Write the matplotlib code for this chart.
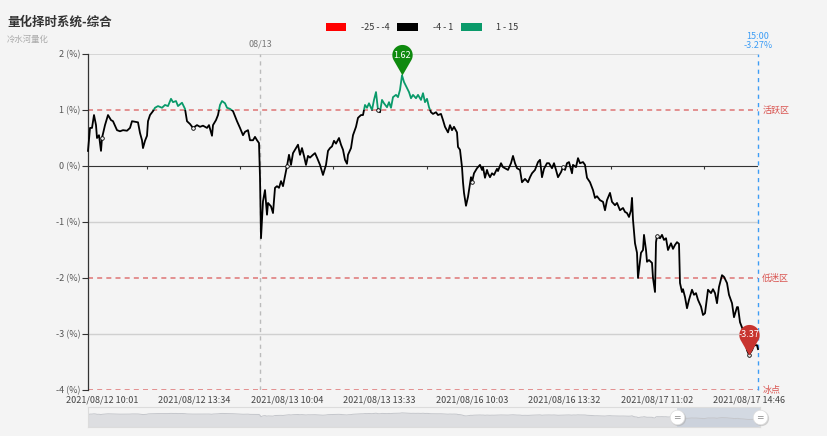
import numpy as np
import matplotlib.pyplot as plt
from matplotlib.path import Path
from matplotlib.patches import Rectangle, Patch

plt.rcParams['font.family'] = ['Noto Sans CJK SC', 'DejaVu Sans']

# minute index (category position) and cumulative change in %
bar_idx = [0, 2, 4, 6, 8, 9, 11, 13, 14, 17, 20, 23, 25, 29, 32, 35, 39, 42, 44, 47,
           50, 52, 54, 55, 57, 59, 60, 62, 65, 67, 70, 74, 77, 80, 83, 85, 88, 90, 92, 94,
           97, 99, 102, 105, 109, 112, 115, 119, 121, 124, 125, 128, 130, 132, 134, 137, 139, 142, 145, 147,
           149, 152, 155, 157, 160, 162, 165, 167, 169, 171, 172, 173, 174, 175, 177, 179, 180, 183, 185, 187,
           189, 191, 193, 195, 197, 199, 201, 203, 205, 208, 210, 212, 214, 216, 218, 220, 222, 225, 227, 229,
           232, 235, 238, 240, 242, 244, 246, 248, 251, 253, 255, 257, 259, 260, 263, 265, 268, 270, 273, 275,
           277, 279, 281, 284, 286, 288, 290, 292, 294, 296, 299, 301, 303, 305, 308, 310, 312, 314, 316, 319,
           321, 323, 325, 328, 330, 333, 335, 337, 339, 341, 343, 345, 348, 350, 353, 355, 357, 360, 362, 364,
           366, 369, 370, 372, 374, 375, 376, 378, 380, 381, 383, 384, 386, 389, 390, 392, 394, 395, 397, 399,
           400, 402, 404, 406, 409, 410, 413, 415, 418, 420, 423, 425, 427, 429, 432, 434, 437, 440, 442, 444,
           447, 450, 452, 454, 456, 459, 461, 464, 466, 468, 470, 473, 475, 477, 479, 481, 484, 485, 488, 490,
           492, 495, 497, 499, 502, 505, 507, 509, 512, 515, 517, 519, 522, 524, 527, 529, 532, 535, 537, 539,
           541, 543, 544, 545, 547, 549, 550, 553, 555, 556, 558, 559, 561, 564, 565, 567, 568, 569, 572, 574,
           576, 578, 580, 583, 585, 587, 589, 591, 592, 594, 595, 597, 599, 601, 604, 606, 608, 610, 613, 615,
           617, 619, 620, 623, 625, 627, 629, 631, 634, 636, 639, 641, 644, 646, 649, 650, 652, 655, 657, 659,
           661, 664, 666, 669, 670]
pct = [0.27, 0.68, 0.68, 0.91, 0.73, 0.50, 0.55, 0.27, 0.50, 0.73, 0.91, 0.82, 0.80, 0.64, 0.62, 0.64, 0.63, 0.68, 0.80, 0.79,
       0.78, 0.59, 0.46, 0.32, 0.45, 0.54, 0.80, 0.91, 0.98, 1.04, 1.07, 1.04, 1.09, 1.07, 1.20, 1.14, 1.16, 1.07, 1.10, 1.13,
       1.02, 0.80, 0.75, 0.68, 0.73, 0.70, 0.72, 0.68, 0.73, 0.54, 0.73, 0.82, 0.91, 1.09, 1.16, 1.12, 1.04, 1.02, 0.98, 0.89,
       0.80, 0.68, 0.55, 0.61, 0.64, 0.46, 0.46, 0.52, 0.46, 0.41, -0.20, -1.29, -0.95, -0.63, -0.43, -0.87, -0.66, -0.72, -0.84, -0.39,
       -0.36, -0.39, -0.27, -0.36, -0.18, 0.00, 0.20, 0.02, 0.23, 0.32, 0.38, 0.20, 0.32, 0.18, 0.02, 0.18, 0.15, 0.20, 0.23, 0.15,
       0.02, -0.16, 0.02, 0.27, 0.32, 0.35, 0.45, 0.40, 0.50, 0.38, 0.29, 0.11, 0.04, 0.20, 0.32, 0.55, 0.70, 0.86, 0.91, 0.91,
       1.09, 1.04, 1.12, 1.00, 1.18, 1.32, 1.00, 0.96, 1.18, 1.12, 1.05, 1.14, 1.04, 1.23, 1.27, 1.23, 1.36, 1.62, 1.50, 1.39,
       1.32, 1.21, 1.27, 1.21, 1.27, 1.18, 1.30, 1.14, 1.20, 1.05, 0.96, 0.93, 0.96, 0.91, 0.93, 0.82, 0.70, 0.60, 0.73, 0.64,
       0.70, 0.60, 0.34, 0.29, -0.02, -0.29, -0.48, -0.71, -0.55, -0.43, -0.20, -0.29, -0.13, -0.04, -0.02, 0.02, -0.07, -0.02, -0.21, -0.07,
       -0.13, -0.20, -0.13, -0.16, -0.05, -0.09, 0.05, -0.02, -0.05, -0.07, 0.05, 0.18, 0.05, -0.04, -0.07, -0.29, -0.23, -0.29, -0.20, -0.13,
       -0.07, 0.07, 0.11, -0.20, -0.05, 0.05, 0.05, -0.04, 0.05, -0.07, -0.20, -0.11, -0.02, -0.07, 0.05, 0.07, -0.13, 0.02, -0.02, 0.14,
       0.05, 0.07, 0.02, -0.21, -0.29, -0.43, -0.57, -0.54, -0.61, -0.64, -0.79, -0.61, -0.48, -0.64, -0.70, -0.66, -0.79, -0.75, -0.82, -0.84,
       -0.91, -0.79, -0.57, -0.96, -1.38, -1.55, -2.00, -1.55, -1.50, -1.23, -1.50, -1.71, -1.68, -1.73, -2.00, -2.25, -1.36, -1.25, -1.29, -1.23,
       -1.32, -1.29, -1.50, -1.38, -1.48, -1.41, -1.36, -1.39, -2.09, -2.25, -2.20, -2.34, -2.54, -2.39, -2.21, -2.30, -2.27, -2.39, -2.51, -2.66,
       -2.63, -2.36, -2.21, -2.27, -2.20, -2.27, -2.45, -2.16, -1.95, -1.98, -2.09, -2.30, -2.45, -2.70, -2.52, -2.52, -2.79, -2.93, -3.11, -3.29,
       -3.37, -3.29, -3.20, -3.20, -3.27]

tick_idx = [14, 106, 199, 291, 384, 476, 569, 661]
tick_text = ['2021/08/12 10:01', '2021/08/12 13:34', '2021/08/13 10:04', '2021/08/13 13:33',
             '2021/08/16 10:03', '2021/08/16 13:32', '2021/08/17 11:02', '2021/08/17 14:46']
axis_tick_idx = [59, 152, 245, 339, 432, 523, 616]
day_split_idx = 172
day_split_text = '08/13'
last_time = '15:00'
zone_levels = [1, -2, -4]
zone_names = ['活跃区', '低迷区', '冰点']
piece_lo = [-25, -4, 1]
piece_hi = [-4, 1, 15]
piece_colors = ['#ff0000', '#000000', '#0a9a6a']
piece_labels = ['-25 - -4', '-4 - 1', '1 - 15']
window_start_idx = 589

x = np.array(bar_idx)
y = np.array(pct)
bg = '#f4f4f4'

fig = plt.figure(figsize=(8.27, 4.36), dpi=100, facecolor=bg)
ax = fig.add_axes([88 / 827, 1 - 390 / 436, 670 / 827, 336 / 436])
ax.set_facecolor(bg)
ax.set_xlim(0, x[-1])
ax.set_ylim(-4, 2)

# grid / reference lines
for v in [2, -1, -3]:
    ax.axhline(v, color='#d0d0d0', lw=1.2 if v == 2 else 1, zorder=1)
for v in zone_levels:
    ax.axhline(v, color='#e07f7f', lw=1.2, ls=(0, (3, 2.5)), zorder=1)
ax.axhline(0, color='#333333', lw=0.8, zorder=1)
ax.vlines(axis_tick_idx, -0.055, 0, color='#333333', lw=0.8, zorder=1)
ax.axvline(day_split_idx, color='#bbbbbb', lw=1, ls=(0, (3, 3)), zorder=1)
ax.axvline(x[-1], color='#3d9df5', lw=1, ls=(0, (3, 3)), zorder=1, clip_on=False)

# piecewise coloured line (visual map pieces)
for lo, hi, c in zip(piece_lo, piece_hi, piece_colors):
    ln, = ax.plot(x, y, color=c, lw=1.3, zorder=3, solid_joinstyle='round')
    ln.set_clip_path(Rectangle((x[0] - 10, lo), x[-1] - x[0] + 20, hi - lo, transform=ax.transData))

# small symbols at label positions
for t in tick_idx:
    k = int(np.argmin(np.abs(x - t)))
    c = piece_colors[int(np.searchsorted(piece_hi, y[k]))]
    ax.plot(x[k], y[k], 'o', ms=2.6, mfc=bg, mec=c, mew=0.6, zorder=4)

# pin markers for max / min
th = np.linspace(np.radians(-30), np.radians(210), 40)
verts = np.column_stack([np.cos(th), np.sin(th) + 2])
verts = np.vstack([[0, 0], verts, [0, 0]])
pin = Path(verts, [Path.MOVETO] + [Path.LINETO] * (len(verts) - 2) + [Path.CLOSEPOLY])
for k, pc in [(int(np.argmax(y)), '#0e8a0e'), (int(np.argmin(y)), '#c8342f')]:
    ax.plot(x[k], y[k], marker=pin, ms=44, color=pc, mec='none', zorder=6, clip_on=False)
    ax.annotate(f'{y[k]:.2f}', xy=(x[k], y[k]), xytext=(0, 14.5), textcoords='offset points',
                ha='center', va='center', color='white', fontsize=6.5, zorder=7, annotation_clip=False)

# labels on reference lines
for v, name in zip(zone_levels, zone_names):
    ax.annotate(name, xy=(x[-1], v), xytext=(3, 0), textcoords='offset points', ha='left',
                va='center', color='#d9534f', fontsize=6.5, annotation_clip=False)
ax.annotate(day_split_text, xy=(day_split_idx, 2), xytext=(0, 4), textcoords='offset points',
            ha='center', va='bottom', color='#777777', fontsize=6.5, annotation_clip=False)
ax.annotate(f'{last_time}\n{y[-1]:.2f}%', xy=(x[-1], 2), xytext=(0, 3), textcoords='offset points',
            ha='center', va='bottom', color='#3d9df5', fontsize=6.5, linespacing=0.95,
            annotation_clip=False)

ax.set_yticks(range(-4, 3))
ax.set_yticklabels([f'{v} (%)' for v in range(-4, 3)])
ax.set_xticks(tick_idx)
ax.set_xticklabels(tick_text)
ax.tick_params(axis='y', length=4, width=0.8, color='#333333', labelsize=6.5, labelcolor='#555555', pad=1.5)
ax.tick_params(axis='x', length=0, labelsize=6.5, labelcolor='#444444', pad=4)
for s in ['top', 'right', 'bottom']:
    ax.spines[s].set_visible(False)
ax.spines['left'].set_color('#333333')
ax.spines['left'].set_linewidth(0.9)

# data zoom slider
sax = fig.add_axes([88 / 827, 1 - 427 / 436, 672 / 827, 20 / 436])
sax.set_facecolor(bg)
sax.fill_between(x, -9, y, color='#dddee1', lw=0)
sax.plot(x, y, color='#c4c6cb', lw=0.7)
sax.axvspan(window_start_idx, x[-1] + 2, color='#c6cedb', alpha=0.7, lw=0)
sax.set_xlim(0, x[-1] + 2)
sax.set_ylim(-9, 6)
sax.set_xticks([])
sax.set_yticks([])
for s in sax.spines.values():
    s.set_color('#dcdcdc')
    s.set_linewidth(0.8)
for hx in [window_start_idx, x[-1] + 2]:
    sax.plot(hx + 1, -2.2, 'o', ms=11, color='#aaaaaa', alpha=0.5, mec='none', clip_on=False, zorder=5)
    sax.plot(hx, -1.5, 'o', ms=10.5, color='white', mec='#dddddd', mew=0.5, clip_on=False, zorder=6)
    sax.text(hx, -1.6, '=', ha='center', va='center', fontsize=6.5, color='#888888', zorder=7,
             family='DejaVu Sans')

# legend
handles = [Patch(facecolor=c, edgecolor='none') for c in piece_colors]
fig.legend(handles, piece_labels, loc='center', bbox_to_anchor=(422 / 827, 1 - 27.5 / 436), ncol=3,
           frameon=False, fontsize=6.5, handlelength=2.3, handleheight=1.0, handletextpad=1.6,
           columnspacing=0.9, labelcolor='#333333')

# title
fig.text(7 / 827, 1 - 22 / 436, '量化择时系统-综合', fontsize=9, fontweight='bold', color='#333333', va='center')
fig.text(7 / 827, 1 - 39.5 / 436, '冷水河量化', fontsize=6, color='#aaaaaa', va='center')

fig.savefig('out.png', dpi=100, facecolor=bg)
